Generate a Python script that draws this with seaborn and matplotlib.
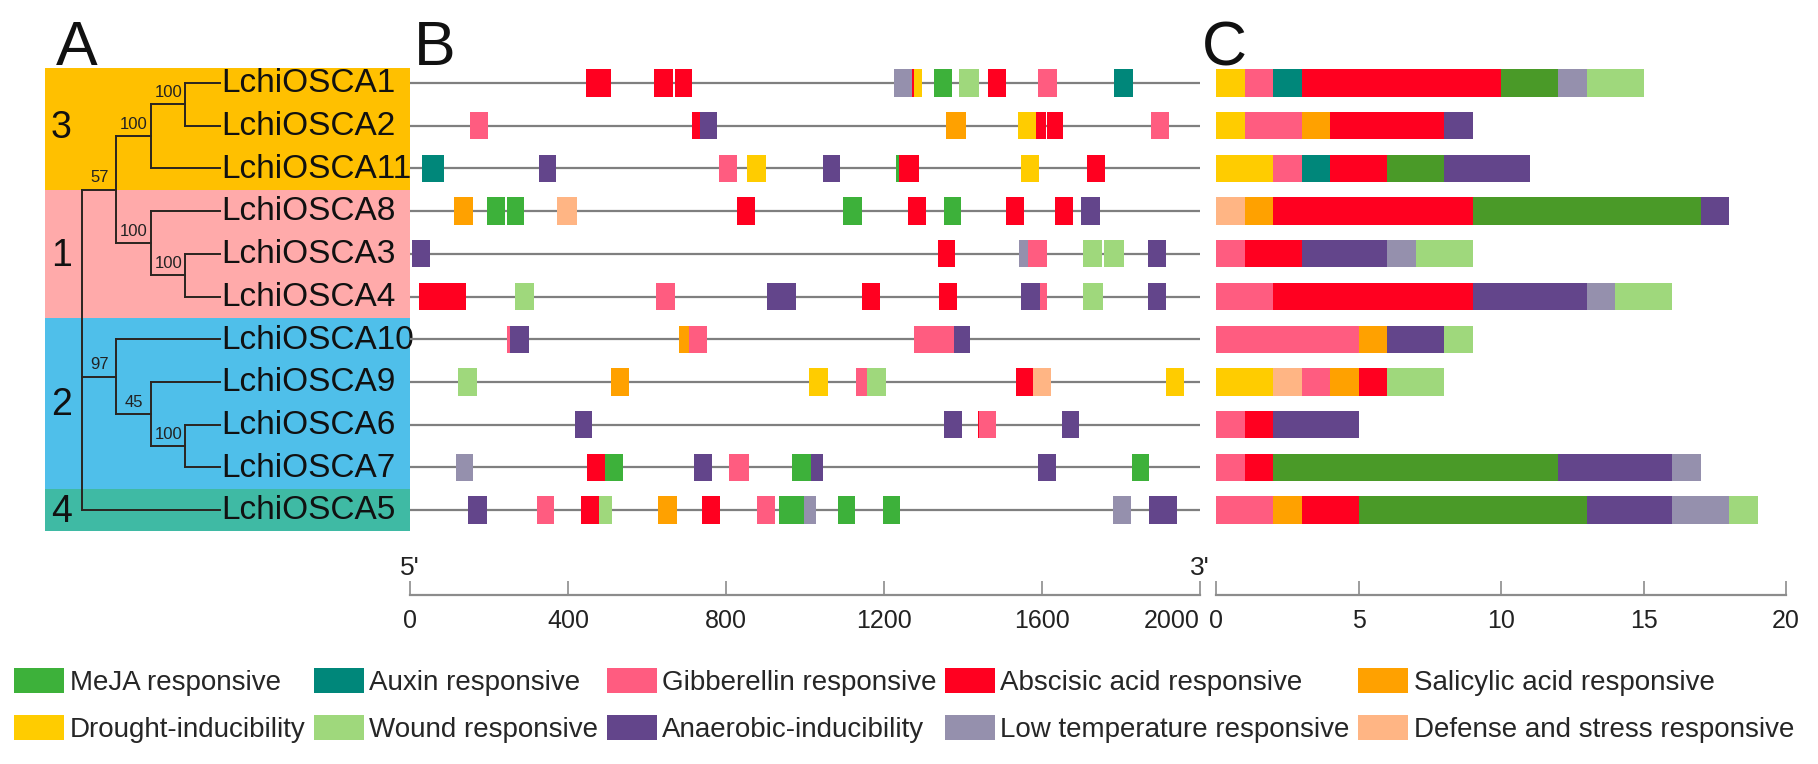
import numpy as np
import matplotlib
matplotlib.use("Agg")
import matplotlib.pyplot as plt
import seaborn as sns
from matplotlib.patches import Patch

# ---------------- data ----------------
genes = ["LchiOSCA1", "LchiOSCA2", "LchiOSCA11", "LchiOSCA8", "LchiOSCA3",
         "LchiOSCA4", "LchiOSCA10", "LchiOSCA9", "LchiOSCA6", "LchiOSCA7",
         "LchiOSCA5"]

# element counts per gene (panel C), same order as genes
drought = [1, 1, 2, 0, 0, 0, 0, 2, 0, 0, 0]
defense = [0, 0, 0, 1, 0, 0, 0, 1, 0, 0, 0]
gibberellin = [1, 2, 1, 0, 1, 2, 5, 1, 1, 1, 2]
auxin = [1, 0, 1, 0, 0, 0, 0, 0, 0, 0, 0]
salicylic = [0, 1, 0, 1, 0, 0, 1, 1, 0, 0, 1]
abscisic = [7, 4, 2, 7, 2, 7, 0, 1, 1, 1, 2]
meja = [2, 0, 2, 8, 0, 0, 0, 0, 0, 10, 8]
anaerobic = [0, 1, 3, 1, 3, 4, 2, 0, 3, 4, 3]
lowtemp = [1, 0, 0, 0, 1, 1, 0, 0, 0, 1, 2]
wound = [2, 0, 0, 0, 2, 2, 1, 2, 0, 0, 1]

stack_order = ["Drought-inducibility", "Defense and stress responsive",
               "Gibberellin responsive", "Auxin responsive",
               "Salicylic acid responsive", "Abscisic acid responsive",
               "MeJA responsive", "Anaerobic-inducibility",
               "Low temperature responsive", "Wound responsive"]
stack_counts = [drought, defense, gibberellin, auxin, salicylic, abscisic,
                meja, anaerobic, lowtemp, wound]

legend_order = ["MeJA responsive", "Auxin responsive", "Gibberellin responsive",
                "Abscisic acid responsive", "Salicylic acid responsive",
                "Drought-inducibility", "Wound responsive",
                "Anaerobic-inducibility", "Low temperature responsive",
                "Defense and stress responsive"]

code_names = {"MeJA": "MeJA responsive", "Aux": "Auxin responsive",
              "Gib": "Gibberellin responsive", "ABA": "Abscisic acid responsive",
              "SA": "Salicylic acid responsive", "Dro": "Drought-inducibility",
              "Wou": "Wound responsive", "Ana": "Anaerobic-inducibility",
              "Low": "Low temperature responsive",
              "Def": "Defense and stress responsive"}

# panel B element positions (bp)
b_gene = (["LchiOSCA1"] * 11 + ["LchiOSCA2"] * 8 + ["LchiOSCA11"] * 9 +
          ["LchiOSCA8"] * 11 + ["LchiOSCA3"] * 7 + ["LchiOSCA4"] * 10 +
          ["LchiOSCA10"] * 6 + ["LchiOSCA9"] * 8 + ["LchiOSCA6"] * 5 +
          ["LchiOSCA7"] * 9 + ["LchiOSCA5"] * 13)
b_elem = ["ABA", "ABA", "ABA", "Low", "ABA", "Dro", "MeJA", "Wou", "ABA", "Gib", "Aux",
          "Gib", "ABA", "Ana", "SA", "Dro", "ABA", "ABA", "Gib",
          "Aux", "Ana", "Gib", "Dro", "Ana", "MeJA", "ABA", "Dro", "ABA",
          "SA", "MeJA", "MeJA", "Def", "ABA", "MeJA", "ABA", "MeJA", "ABA", "ABA", "Ana",
          "Ana", "ABA", "Low", "Gib", "Wou", "Wou", "Ana",
          "ABA", "Wou", "Gib", "Ana", "ABA", "ABA", "Ana", "Gib", "Wou", "Ana",
          "Gib", "Ana", "SA", "Gib", "Gib", "Ana",
          "Wou", "SA", "Dro", "Gib", "Wou", "ABA", "Def", "Dro",
          "Ana", "Ana", "ABA", "Gib", "Ana",
          "Low", "ABA", "MeJA", "Ana", "Gib", "MeJA", "Ana", "Ana", "MeJA",
          "Ana", "Gib", "ABA", "Wou", "SA", "ABA", "Gib", "MeJA", "Low", "MeJA", "MeJA", "Low", "Ana"]
b_start = [445, 618, 671, 1226, 1270, 1276, 1327, 1391, 1464, 1590, 1783,
           152, 713, 734, 1357, 1538, 1586, 1612, 1875,
           30, 327, 783, 854, 1045, 1230, 1239, 1547, 1713,
           111, 195, 246, 373, 829, 1097, 1262, 1352, 1509, 1633, 1699,
           4, 1336, 1542, 1565, 1703, 1758, 1868,
           24, 266, 624, 905, 1145, 1339, 1547, 1595, 1705, 1868,
           246, 252, 682, 707, 1277, 1376,
           121, 508, 1011, 1129, 1158, 1534, 1578, 1914,
           418, 1352, 1437, 1441, 1650,
           116, 447, 494, 719, 808, 968, 1015, 1589, 1827,
           147, 322, 433, 478, 628, 739, 878, 934, 997, 1084, 1197, 1780, 1872]
b_end = [510, 665, 714, 1270, 1276, 1297, 1373, 1441, 1508, 1637, 1831,
         197, 734, 778, 1408, 1586, 1610, 1652, 1921,
         87, 370, 829, 900, 1089, 1239, 1289, 1592, 1759,
         160, 240, 289, 424, 873, 1144, 1306, 1395, 1554, 1679, 1747,
         51, 1380, 1565, 1612, 1752, 1808, 1914,
         141, 314, 671, 977, 1190, 1384, 1595, 1612, 1754, 1914,
         252, 300, 707, 751, 1376, 1418,
         169, 554, 1057, 1158, 1205, 1578, 1623, 1959,
         462, 1397, 1441, 1483, 1694,
         160, 494, 540, 765, 858, 1015, 1046, 1635, 1872,
         195, 365, 478, 511, 676, 785, 924, 997, 1028, 1127, 1241, 1825, 1942]
b_gene_len = 2000
b_ticks = [0, 400, 800, 1200, 1600, 2000]
c_ticks = [0, 5, 10, 15, 20]

# tree (panel A)
tree_nodes = [
    ("n12", ["LchiOSCA1", "LchiOSCA2"], 3, "100"),
    ("n3", ["n12", "LchiOSCA11"], 2, "100"),
    ("n34", ["LchiOSCA3", "LchiOSCA4"], 3, "100"),
    ("n1", ["LchiOSCA8", "n34"], 2, "100"),
    ("n31", ["n3", "n1"], 1, "57"),
    ("n67", ["LchiOSCA6", "LchiOSCA7"], 3, "100"),
    ("n967", ["LchiOSCA9", "n67"], 2, "45"),
    ("n2", ["LchiOSCA10", "n967"], 1, "97"),
    ("root", ["n31", "n2", "LchiOSCA5"], 0, ""),
]
groups = ["3", "1", "2", "4"]
group_rows = [[0, 1, 2], [3, 4, 5], [6, 7, 8, 9], [10]]

# ---------------- style ----------------
pal = {
    "MeJA responsive": "#3db13a",
    "Auxin responsive": "#00877a",
    "Gibberellin responsive": "#ff5c80",
    "Abscisic acid responsive": "#ff0020",
    "Salicylic acid responsive": "#ffa100",
    "Drought-inducibility": "#ffcc00",
    "Wound responsive": "#9fd87c",
    "Anaerobic-inducibility": "#63458b",
    "Low temperature responsive": "#9590ad",
    "Defense and stress responsive": "#ffb584",
}
c_pal = dict(pal)
c_pal["MeJA responsive"] = "#4a9a28"
group_colors = ["#ffc000", "#ffaaaa", "#4fbfea", "#3fbaa4"]

sns.set_theme(style="white")
plt.rcParams["font.family"] = ["Liberation Sans", "DejaVu Sans"]

W, H = 1818, 764
fig = plt.figure(figsize=(W / 100, H / 100), dpi=100)


def fx(px):
    return px / W


def fy(py):
    return 1 - py / H


row0, rs = 83.0, 42.7
ytop, ybot = -0.6, 12.0
ptop, pbot = row0 + ytop * rs, row0 + ybot * rs
ax_h = (pbot - ptop) / H

axA = fig.add_axes([fx(45), fy(pbot), 365 / W, ax_h])
axB = fig.add_axes([fx(410), fy(pbot), 790 / W, ax_h])
axC = fig.add_axes([fx(1216), fy(pbot), 570 / W, ax_h])

gray = "#8c8c8c"
box_h = 0.64

# ---------- panel A: tree ----------
tip_depth = 4
ypos = {g: i for i, g in enumerate(genes)}
dep = {g: tip_depth for g in genes}
for name, ch, d, bs in tree_nodes:
    ys = [ypos[c] for c in ch]
    ypos[name] = (min(ys) + max(ys)) / 2
    dep[name] = d

for lo, rows_, col in zip([-0.35, 2.5, 5.5, 9.5], group_rows, group_colors):
    hi = max(rows_) + 0.5
    axA.axhspan(lo, hi, color=col, lw=0, zorder=0)
for gname, rows_ in zip(groups, group_rows):
    axA.text(-0.6, np.mean(rows_) + 0.05, gname, fontsize=27, ha="center",
             va="center", color="#111111")

tree_col = "#2a2420"
for name, ch, d, bs in tree_nodes:
    ys = [ypos[c] for c in ch]
    axA.plot([d, d], [min(ys), max(ys)], color=tree_col, lw=1.4,
             solid_capstyle="projecting")
    for c in ch:
        axA.plot([d, dep[c]], [ypos[c], ypos[c]], color=tree_col, lw=1.4,
                 solid_capstyle="projecting")
    if bs:
        axA.text(d - 0.5, ypos[name] - 0.1, bs, fontsize=12, ha="center",
                 va="bottom", color="#222222")
for g in genes:
    axA.text(tip_depth + 0.05, ypos[g] + 0.02, g, fontsize=24, ha="left",
             va="center", color="#111111")
axA.set_xlim(-1.072, 9.507)
axA.set_ylim(ybot, ytop)
axA.axis("off")

# ---------- panel B: element positions ----------
axB.hlines(np.arange(len(genes)), 0, b_gene_len, color="#7f7f7f", lw=1.6, zorder=1)
for g, e, s, t in zip(b_gene, b_elem, b_start, b_end):
    axB.barh(genes.index(g), t - s, left=s, height=box_h,
             color=pal[code_names[e]], lw=0, zorder=2)
axB.text(0, 11.35, "5'", fontsize=19, ha="center", va="center", color="#222222")
axB.text(b_gene_len, 11.35, "3'", fontsize=19, ha="center", va="center", color="#222222")
axB.set_xlim(0, b_gene_len)
axB.set_ylim(ybot, ytop)
axB.set_xticks(b_ticks)

# ---------- panel C: stacked counts (seaborn) ----------
cum = np.zeros(len(genes))
cums = []
for cnt in stack_counts:
    cum = cum + np.array(cnt, dtype=float)
    cums.append(cum.copy())
for e, cvals in reversed(list(zip(stack_order, cums))):
    sns.barplot(x=cvals, y=genes, order=genes, orient="h", color=c_pal[e],
                saturation=1, width=box_h, errorbar=None, linewidth=0,
                ax=axC)
axC.set_xlim(0, 20)
axC.set_ylim(ybot, ytop)
axC.set_xticks(c_ticks)
axC.set_xlabel("")
axC.set_ylabel("")

for ax in (axB, axC):
    for sp in ("left", "top", "right"):
        ax.spines[sp].set_visible(False)
    ax.spines["bottom"].set_color(gray)
    ax.spines["bottom"].set_linewidth(1.6)
    ax.set_yticks([])
    ax.tick_params(axis="x", direction="in", length=10, width=1.2, color=gray,
                   labelsize=18, labelcolor="#222222", pad=10, bottom=True)
    ax.grid(False)
    ax.set_facecolor("none")

# last B tick label sits left of its tick so it clears panel C's "0"
fig.canvas.draw()
axB.get_xticklabels()[-1].set_horizontalalignment("right")

# panel letters
for lab, px in zip(["A", "B", "C"], [56, 414, 1202]):
    fig.text(fx(px), fy(65), lab, fontsize=45, ha="left", va="baseline",
             color="#111111")

# legend
handles = [Patch(facecolor=pal[n], edgecolor="none") for n in legend_order]
# column-major fill for ncol=5 -> reorder so rows read as in legend_order
order_idx = [0, 5, 1, 6, 2, 7, 3, 8, 4, 9]
fig.legend([handles[i] for i in order_idx], [legend_order[i] for i in order_idx],
           loc="upper left", bbox_to_anchor=(fx(14), fy(668)), ncol=5,
           frameon=False, fontsize=20, handlelength=1.8, handleheight=1.0,
           handletextpad=0.2, columnspacing=0.3, labelspacing=0.7,
           borderpad=0, borderaxespad=0)

fig.savefig("out.png", dpi=100)
